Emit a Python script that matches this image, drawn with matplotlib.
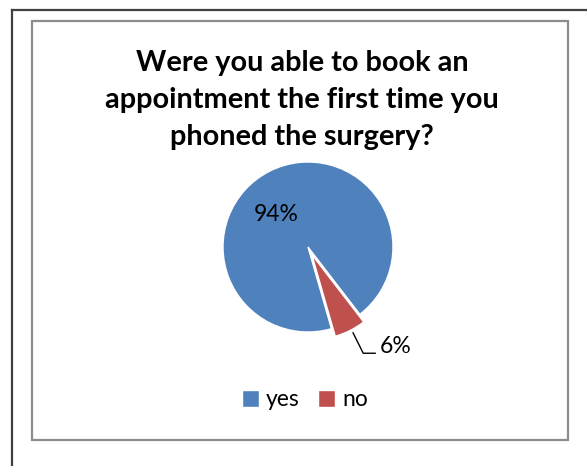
import matplotlib
matplotlib.use("Agg")
import matplotlib.pyplot as plt
from matplotlib.patches import Rectangle
from matplotlib.lines import Line2D

# survey answers (percent)
answers = ["yes", "no"]
shares = [94, 6]
colours = ["#4F81BD", "#C0504D"]
title = "Were you able to book an\nappointment the first time you\nphoned the surgery?"

W, H = 587, 466
plt.rcParams["font.family"] = ["Lato", "DejaVu Sans"]

fig = plt.figure(figsize=(W / 100, H / 100), dpi=100)
fig.patch.set_facecolor("white")

# outer frame (only left and top edges visible) and chart-area box
fig.add_artist(Line2D([12 / W, 12 / W], [0, 1 - 10 / H], color="#404040", lw=1.6))
fig.add_artist(Line2D([12 / W, 1], [1 - 10 / H, 1 - 10 / H], color="#404040", lw=1.6))
fig.add_artist(Rectangle((32 / W, 1 - 440 / H), (568 - 32) / W, (440 - 21) / H,
                         transform=fig.transFigure, fill=False,
                         edgecolor="#8C8C8C", lw=1.6))

fig.text(302 / W, 1 - 100 / H, title, ha="center", va="center",
         fontsize=20.8, fontweight="bold", linespacing=1.5)

# pie axes: radius 1 -> 85 px, centred at (308, 247) px from top
R, lim = 85, 1.4
cx, cy = 308, H - 247
side = 2 * R * lim
ax = fig.add_axes([(cx - side / 2) / W, (cy - side / 2) / H, side / W, side / H])
wedges, _ = ax.pie(shares, colors=colours, startangle=286, counterclock=False,
                   explode=[0, 0.1], radius=1,
                   wedgeprops=dict(edgecolor="white", linewidth=1))
ax.set_xlim(-lim, lim)
ax.set_ylim(-lim, lim)
ax.set_aspect("equal")
ax.axis("off")

ax.text(-0.37, 0.38, f"{shares[0]}%", ha="center", va="center", fontsize=16.5)
ax.plot([0.53, 0.65, 0.79], [-1.01, -1.25, -1.25], color="black", lw=1)
ax.text(0.84, -1.25, f"{shares[1]}%", ha="left", va="baseline", fontsize=16.5)

fig.legend(wedges, answers, loc="center", bbox_to_anchor=(305 / W, 1 - 400 / H),
           ncol=2, frameon=False, fontsize=16.5, handlelength=0.75, handleheight=0.75,
           handletextpad=0.3, columnspacing=0.8)

fig.savefig("out.png", dpi=100)
